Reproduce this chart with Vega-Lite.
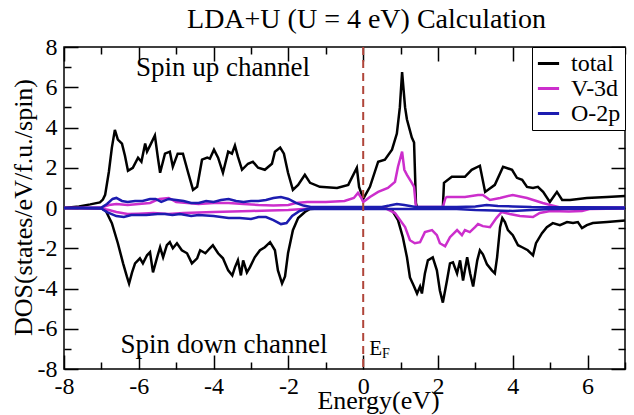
{
  "$schema": "https://vega.github.io/schema/vega-lite/v6.json",
  "width": 561,
  "height": 322,
  "autosize": {"type": "none"},
  "padding": {"left": 64, "top": 47, "right": 9, "bottom": 46},
  "background": "white",
  "data": {"values": [{}]},
  "title": {"text": "LDA+U (U = 4 eV) Calculation", "font": "Liberation Serif", "fontSize": 28, "fontWeight": "normal", "color": "black", "anchor": "middle", "dx": 22, "offset": 1},
  "datasets": {
    "tu": [{"x":-8,"y":0},{"x":-7.6,"y":0.08},{"x":-7.3,"y":0.18},{"x":-7.04,"y":0.28},{"x":-6.96,"y":0.42},{"x":-6.9,"y":0.65},{"x":-6.8,"y":1.8},{"x":-6.72,"y":3.0},{"x":-6.64,"y":3.88},{"x":-6.56,"y":3.4},{"x":-6.45,"y":3.2},{"x":-6.37,"y":2.6},{"x":-6.29,"y":1.85},{"x":-6.16,"y":2.0},{"x":-6.02,"y":2.5},{"x":-5.93,"y":2.3},{"x":-5.83,"y":3.2},{"x":-5.78,"y":2.8},{"x":-5.7,"y":3.1},{"x":-5.57,"y":3.6},{"x":-5.49,"y":2.5},{"x":-5.43,"y":1.75},{"x":-5.3,"y":2.7},{"x":-5.17,"y":2.8},{"x":-5.09,"y":2.05},{"x":-4.96,"y":2.7},{"x":-4.82,"y":2.7},{"x":-4.68,"y":1.75},{"x":-4.55,"y":0.9},{"x":-4.44,"y":1.05},{"x":-4.31,"y":2.4},{"x":-4.17,"y":2.5},{"x":-4.1,"y":2.45},{"x":-3.99,"y":2.9},{"x":-3.88,"y":2.5},{"x":-3.75,"y":1.75},{"x":-3.61,"y":2.8},{"x":-3.51,"y":2.7},{"x":-3.43,"y":3.1},{"x":-3.35,"y":2.55},{"x":-3.24,"y":1.9},{"x":-3.08,"y":2.2},{"x":-2.95,"y":2.3},{"x":-2.81,"y":2.0},{"x":-2.63,"y":1.9},{"x":-2.44,"y":2.2},{"x":-2.36,"y":2.8},{"x":-2.22,"y":3.0},{"x":-2.12,"y":2.7},{"x":-2.01,"y":1.75},{"x":-1.88,"y":0.9},{"x":-1.74,"y":1.15},{"x":-1.56,"y":1.65},{"x":-1.42,"y":1.25},{"x":-1.16,"y":1.05},{"x":-0.7,"y":1.0},{"x":-0.4,"y":1.15},{"x":-0.17,"y":2.0},{"x":-0.11,"y":1.05},{"x":0,"y":0.45},{"x":0.18,"y":1.05},{"x":0.4,"y":2.3},{"x":0.58,"y":2.4},{"x":0.77,"y":2.9},{"x":0.9,"y":3.7},{"x":0.98,"y":5.0},{"x":1.04,"y":6.75},{"x":1.12,"y":5.0},{"x":1.17,"y":4.4},{"x":1.3,"y":3.5},{"x":1.36,"y":3.25},{"x":1.41,"y":0.25},{"x":1.44,"y":0.02},{"x":2.13,"y":0.02},{"x":2.16,"y":1.25},{"x":2.37,"y":1.55},{"x":2.72,"y":1.55},{"x":2.9,"y":1.9},{"x":3.12,"y":2.1},{"x":3.26,"y":0.8},{"x":3.52,"y":1.15},{"x":3.74,"y":2.05},{"x":3.98,"y":1.9},{"x":4.11,"y":1.5},{"x":4.25,"y":1.4},{"x":4.38,"y":1.05},{"x":4.54,"y":1.0},{"x":4.67,"y":1.05},{"x":4.81,"y":0.8},{"x":4.99,"y":0.3},{"x":5.18,"y":0.8},{"x":5.32,"y":0.4},{"x":5.53,"y":0.4},{"x":5.98,"y":0.5},{"x":6.52,"y":0.55},{"x":7,"y":0.6}],
    "td": [{"x":-8,"y":0},{"x":-7.0,"y":-0.02},{"x":-6.88,"y":-0.15},{"x":-6.72,"y":-0.75},{"x":-6.56,"y":-1.75},{"x":-6.42,"y":-2.75},{"x":-6.32,"y":-3.4},{"x":-6.26,"y":-3.75},{"x":-6.18,"y":-3.2},{"x":-6.1,"y":-2.75},{"x":-5.97,"y":-2.5},{"x":-5.89,"y":-2.75},{"x":-5.78,"y":-2.35},{"x":-5.7,"y":-2.2},{"x":-5.62,"y":-3.2},{"x":-5.51,"y":-2.45},{"x":-5.43,"y":-1.95},{"x":-5.35,"y":-2.45},{"x":-5.25,"y":-1.85},{"x":-5.17,"y":-1.7},{"x":-5.09,"y":-2.0},{"x":-4.98,"y":-1.75},{"x":-4.85,"y":-2.1},{"x":-4.71,"y":-2.25},{"x":-4.58,"y":-2.75},{"x":-4.44,"y":-2.5},{"x":-4.36,"y":-2.1},{"x":-4.22,"y":-2.25},{"x":-4.1,"y":-2.0},{"x":-4.02,"y":-1.85},{"x":-3.88,"y":-2.25},{"x":-3.75,"y":-2.5},{"x":-3.61,"y":-3.1},{"x":-3.5,"y":-3.35},{"x":-3.43,"y":-2.95},{"x":-3.35,"y":-2.6},{"x":-3.27,"y":-3.35},{"x":-3.21,"y":-2.6},{"x":-3.11,"y":-3.2},{"x":-3.03,"y":-2.95},{"x":-2.9,"y":-2.45},{"x":-2.76,"y":-2.1},{"x":-2.63,"y":-1.95},{"x":-2.49,"y":-1.7},{"x":-2.36,"y":-2.1},{"x":-2.28,"y":-3.1},{"x":-2.17,"y":-3.75},{"x":-2.09,"y":-3.4},{"x":-2.01,"y":-2.25},{"x":-1.88,"y":-1.1},{"x":-1.74,"y":-0.5},{"x":-1.56,"y":-0.2},{"x":-1.42,"y":-0.05},{"x":-1.2,"y":-0.02},{"x":0.6,"y":-0.02},{"x":0.77,"y":-0.1},{"x":0.93,"y":-0.6},{"x":1.06,"y":-1.45},{"x":1.17,"y":-2.45},{"x":1.25,"y":-3.45},{"x":1.36,"y":-3.9},{"x":1.44,"y":-4.25},{"x":1.52,"y":-3.9},{"x":1.57,"y":-4.25},{"x":1.65,"y":-3.25},{"x":1.73,"y":-2.6},{"x":1.86,"y":-2.45},{"x":1.97,"y":-3.1},{"x":2.05,"y":-4.1},{"x":2.13,"y":-4.7},{"x":2.24,"y":-3.6},{"x":2.32,"y":-2.75},{"x":2.4,"y":-2.7},{"x":2.51,"y":-3.25},{"x":2.59,"y":-2.6},{"x":2.67,"y":-3.6},{"x":2.78,"y":-2.45},{"x":2.86,"y":-3.25},{"x":2.94,"y":-3.9},{"x":3.05,"y":-2.6},{"x":3.12,"y":-2.1},{"x":3.2,"y":-2.3},{"x":3.31,"y":-2.8},{"x":3.44,"y":-3.1},{"x":3.52,"y":-3.25},{"x":3.58,"y":-2.45},{"x":3.66,"y":-0.95},{"x":3.72,"y":-0.5},{"x":3.79,"y":-0.7},{"x":3.87,"y":-1.1},{"x":4.0,"y":-1.35},{"x":4.14,"y":-1.85},{"x":4.25,"y":-1.95},{"x":4.4,"y":-2.1},{"x":4.54,"y":-2.35},{"x":4.62,"y":-1.75},{"x":4.78,"y":-1.25},{"x":4.91,"y":-0.95},{"x":5.07,"y":-0.75},{"x":5.26,"y":-0.85},{"x":5.45,"y":-0.7},{"x":5.61,"y":-0.75},{"x":5.74,"y":-0.7},{"x":5.85,"y":-1.0},{"x":5.98,"y":-0.85},{"x":6.14,"y":-0.75},{"x":6.52,"y":-0.7},{"x":7,"y":-0.62}],
    "vu": [{"x":-8,"y":0},{"x":-7,"y":0.02},{"x":-6.8,"y":0.15},{"x":-6.6,"y":0.2},{"x":-6.3,"y":0.15},{"x":-6.0,"y":0.2},{"x":-5.7,"y":0.25},{"x":-5.45,"y":0.45},{"x":-5.2,"y":0.5},{"x":-5.0,"y":0.3},{"x":-4.7,"y":0.25},{"x":-4.4,"y":0.2},{"x":-4.0,"y":0.25},{"x":-3.6,"y":0.25},{"x":-3.2,"y":0.2},{"x":-2.8,"y":0.15},{"x":-2.4,"y":0.12},{"x":-2.0,"y":0.15},{"x":-1.8,"y":0.25},{"x":-1.5,"y":0.3},{"x":-1.0,"y":0.3},{"x":-0.5,"y":0.35},{"x":-0.25,"y":0.5},{"x":-0.14,"y":0.75},{"x":-0.05,"y":0.5},{"x":0,"y":0.3},{"x":0.18,"y":0.55},{"x":0.4,"y":0.8},{"x":0.66,"y":1.0},{"x":0.85,"y":1.3},{"x":0.93,"y":2.05},{"x":1.04,"y":2.8},{"x":1.1,"y":1.9},{"x":1.17,"y":1.65},{"x":1.3,"y":1.25},{"x":1.36,"y":1.05},{"x":1.41,"y":0.05},{"x":2.13,"y":0.05},{"x":2.2,"y":0.5},{"x":2.24,"y":0.55},{"x":2.72,"y":0.55},{"x":3.07,"y":0.65},{"x":3.2,"y":0.65},{"x":3.39,"y":0.4},{"x":3.66,"y":0.5},{"x":4.0,"y":0.65},{"x":4.38,"y":0.5},{"x":4.8,"y":0.25},{"x":5.0,"y":0.15},{"x":5.3,"y":0.02},{"x":7,"y":0.02}],
    "vd": [{"x":-8,"y":0},{"x":-7,"y":-0.02},{"x":-6.8,"y":-0.1},{"x":-6.6,"y":-0.2},{"x":-6.3,"y":-0.3},{"x":-6.0,"y":-0.28},{"x":-5.6,"y":-0.25},{"x":-5.2,"y":-0.3},{"x":-4.8,"y":-0.25},{"x":-4.4,"y":-0.22},{"x":-4.0,"y":-0.2},{"x":-3.5,"y":-0.18},{"x":-3.0,"y":-0.15},{"x":-2.5,"y":-0.12},{"x":-2.0,"y":-0.1},{"x":-1.6,"y":-0.05},{"x":-1.2,"y":-0.02},{"x":0.6,"y":-0.02},{"x":0.85,"y":-0.25},{"x":1.12,"y":-0.95},{"x":1.25,"y":-1.6},{"x":1.38,"y":-1.75},{"x":1.52,"y":-1.7},{"x":1.65,"y":-1.2},{"x":1.84,"y":-1.1},{"x":1.97,"y":-1.35},{"x":2.05,"y":-1.75},{"x":2.19,"y":-1.9},{"x":2.32,"y":-1.45},{"x":2.51,"y":-1.1},{"x":2.64,"y":-1.35},{"x":2.72,"y":-1.1},{"x":2.85,"y":-1.2},{"x":2.99,"y":-0.95},{"x":3.07,"y":-0.8},{"x":3.2,"y":-0.9},{"x":3.39,"y":-0.95},{"x":3.56,"y":-0.5},{"x":3.7,"y":-0.2},{"x":3.92,"y":-0.3},{"x":4.19,"y":-0.4},{"x":4.54,"y":-0.45},{"x":4.72,"y":-0.25},{"x":5.0,"y":-0.15},{"x":5.5,"y":-0.18},{"x":5.85,"y":-0.15},{"x":6.05,"y":-0.05},{"x":7,"y":-0.02}],
    "ou": [{"x":-8,"y":0},{"x":-7.0,"y":0.02},{"x":-6.85,"y":0.2},{"x":-6.7,"y":0.45},{"x":-6.6,"y":0.5},{"x":-6.45,"y":0.35},{"x":-6.3,"y":0.3},{"x":-6.1,"y":0.35},{"x":-5.9,"y":0.35},{"x":-5.7,"y":0.45},{"x":-5.55,"y":0.45},{"x":-5.4,"y":0.3},{"x":-5.2,"y":0.45},{"x":-5.0,"y":0.4},{"x":-4.8,"y":0.35},{"x":-4.6,"y":0.25},{"x":-4.4,"y":0.25},{"x":-4.2,"y":0.35},{"x":-4.0,"y":0.3},{"x":-3.8,"y":0.4},{"x":-3.6,"y":0.45},{"x":-3.4,"y":0.35},{"x":-3.2,"y":0.3},{"x":-3.0,"y":0.35},{"x":-2.8,"y":0.35},{"x":-2.6,"y":0.4},{"x":-2.4,"y":0.5},{"x":-2.2,"y":0.55},{"x":-2.0,"y":0.45},{"x":-1.8,"y":0.25},{"x":-1.6,"y":0.12},{"x":-1.4,"y":0.05},{"x":0.5,"y":0.05},{"x":0.7,"y":0.12},{"x":0.9,"y":0.2},{"x":1.1,"y":0.15},{"x":1.4,"y":0.05},{"x":2.5,"y":0.05},{"x":3.0,"y":0.08},{"x":3.3,"y":0.15},{"x":3.6,"y":0.1},{"x":4.0,"y":0.08},{"x":4.5,"y":0.05},{"x":7,"y":0.02}],
    "od": [{"x":-8,"y":0},{"x":-7.0,"y":-0.02},{"x":-6.85,"y":-0.2},{"x":-6.6,"y":-0.4},{"x":-6.4,"y":-0.45},{"x":-6.2,"y":-0.35},{"x":-6.0,"y":-0.35},{"x":-5.8,"y":-0.35},{"x":-5.5,"y":-0.3},{"x":-5.3,"y":-0.3},{"x":-5.1,"y":-0.35},{"x":-4.9,"y":-0.3},{"x":-4.6,"y":-0.4},{"x":-4.4,"y":-0.35},{"x":-4.0,"y":-0.4},{"x":-3.6,"y":-0.5},{"x":-3.3,"y":-0.5},{"x":-3.0,"y":-0.55},{"x":-2.8,"y":-0.45},{"x":-2.6,"y":-0.45},{"x":-2.4,"y":-0.6},{"x":-2.2,"y":-0.8},{"x":-2.05,"y":-0.75},{"x":-1.9,"y":-0.4},{"x":-1.7,"y":-0.15},{"x":-1.5,"y":-0.05},{"x":0.5,"y":-0.05},{"x":1.5,"y":-0.05},{"x":2.5,"y":-0.05},{"x":3.0,"y":-0.1},{"x":3.5,"y":-0.12},{"x":4.0,"y":-0.15},{"x":4.5,"y":-0.1},{"x":5.0,"y":-0.05},{"x":7,"y":-0.02}]
  },
  "resolve": {"axis": {"x": "independent", "y": "independent"}},
  "layer": [
    {
      "data": {"name": "tu"},
      "mark": {"type": "line", "strokeWidth": 2.5},
      "encoding": {
        "x": {"field": "x", "type": "quantitative", "scale": {"domain": [-8, 7], "nice": false, "zero": false},
          "axis": {"orient": "bottom", "values": [-8,-7,-6,-5,-4,-3,-2,-1,0,1,2,3,4,5,6,7], "labelExpr": "datum.value % 2 === 0 ? '' + datum.value : ''", "labelFont": "Liberation Serif", "labelFontSize": 24, "labelColor": "black", "tickSize": {"condition": {"test": "datum.value % 2 === 0", "value": -14}, "value": -7}, "labelPadding": 19, "labelFlush": false, "labelOverlap": false, "title": "Energy(eV)", "titleFontSize": 26, "titleX": 314, "titleY": 39, "titleBaseline": "alphabetic"}},
        "y": {"field": "y", "type": "quantitative", "scale": {"domain": [-8, 8], "nice": false, "zero": false},
          "axis": {"orient": "left", "values": [-8,-7,-6,-5,-4,-3,-2,-1,0,1,2,3,4,5,6,7,8], "labelExpr": "datum.value % 2 === 0 ? '' + datum.value : ''", "labelFont": "Liberation Serif", "labelFontSize": 24, "labelColor": "black", "tickSize": {"condition": {"test": "datum.value % 2 === 0", "value": -14}, "value": -7}, "labelPadding": 21, "labelFlush": false, "labelOverlap": false, "title": "DOS(states/eV/f.u./spin)", "titleFontSize": 26, "titleAngle": 270, "titleBaseline": "middle", "titleX": -41, "titleY": 160}},
        "color": {"datum": "total", "type": "nominal",
          "scale": {"domain": ["total", "V-3d", "O-2p"], "range": ["#000000", "#cc2ecc", "#1c1cb0"]},
          "legend": {"orient": "top-right", "offset": 0, "title": null, "strokeColor": "black", "fillColor": "white", "padding": 4, "labelFont": "Liberation Serif", "labelFontSize": 24, "labelColor": "black", "symbolType": "stroke", "symbolStrokeWidth": 3, "symbolSize": 450, "rowPadding": -3, "labelOffset": 10}}
      }
    },
    {"data": {"name": "td"}, "mark": {"type": "line", "strokeWidth": 2.5},
      "encoding": {"x": {"field": "x", "type": "quantitative", "axis": null}, "y": {"field": "y", "type": "quantitative", "axis": null}, "color": {"datum": "total", "type": "nominal"}}},
    {"data": {"name": "vu"}, "mark": {"type": "line", "strokeWidth": 2.5},
      "encoding": {"x": {"field": "x", "type": "quantitative", "axis": null}, "y": {"field": "y", "type": "quantitative", "axis": null}, "color": {"datum": "V-3d", "type": "nominal"}}},
    {"data": {"name": "vd"}, "mark": {"type": "line", "strokeWidth": 2.5},
      "encoding": {"x": {"field": "x", "type": "quantitative", "axis": null}, "y": {"field": "y", "type": "quantitative", "axis": null}, "color": {"datum": "V-3d", "type": "nominal"}}},
    {"data": {"name": "ou"}, "mark": {"type": "line", "strokeWidth": 2.5},
      "encoding": {"x": {"field": "x", "type": "quantitative", "axis": null}, "y": {"field": "y", "type": "quantitative", "axis": null}, "color": {"datum": "O-2p", "type": "nominal"}}},
    {"data": {"name": "od"}, "mark": {"type": "line", "strokeWidth": 2.5},
      "encoding": {"x": {"field": "x", "type": "quantitative", "axis": null}, "y": {"field": "y", "type": "quantitative", "axis": null}, "color": {"datum": "O-2p", "type": "nominal"}}},
    {"mark": {"type": "rule", "color": "#b0453a", "strokeDash": [8, 5], "strokeWidth": 2},
      "encoding": {"x": {"datum": 0, "type": "quantitative", "axis": null}}},
    {"mark": {"type": "text", "text": "Spin up channel", "font": "Liberation Serif", "fontSize": 27, "align": "center", "baseline": "alphabetic", "color": "black"},
      "encoding": {
        "x": {"datum": -3.75, "type": "quantitative",
          "axis": {"orient": "top", "values": [-8,-7,-6,-5,-4,-3,-2,-1,0,1,2,3,4,5,6,7], "labels": false, "tickSize": {"condition": {"test": "datum.value % 2 === 0", "value": -14}, "value": -7}, "title": null}},
        "y": {"datum": 6.55, "type": "quantitative",
          "axis": {"orient": "right", "values": [-8,-7,-6,-5,-4,-3,-2,-1,0,1,2,3,4,5,6,7,8], "labels": false, "tickSize": {"condition": {"test": "datum.value % 2 === 0", "value": -14}, "value": -7}, "title": null}}
      }},
    {"mark": {"type": "text", "text": "Spin down channel", "font": "Liberation Serif", "fontSize": 27, "align": "center", "baseline": "alphabetic", "color": "black"},
      "encoding": {"x": {"datum": -3.72, "type": "quantitative", "axis": null}, "y": {"datum": -7.2, "type": "quantitative", "axis": null}}},
    {"mark": {"type": "text", "text": "E", "font": "Liberation Serif", "fontSize": 21, "align": "left", "baseline": "alphabetic", "color": "black"},
      "encoding": {"x": {"datum": 0.16, "type": "quantitative", "axis": null}, "y": {"datum": -7.3, "type": "quantitative", "axis": null}}},
    {"mark": {"type": "text", "text": "F", "font": "Liberation Serif", "fontSize": 14, "align": "left", "baseline": "alphabetic", "color": "black"},
      "encoding": {"x": {"datum": 0.5, "type": "quantitative", "axis": null}, "y": {"datum": -7.45, "type": "quantitative", "axis": null}}}
  ],
  "config": {
    "font": "Liberation Serif",
    "axis": {"domain": false, "grid": false, "labelFont": "Liberation Serif", "labelFontSize": 24, "labelColor": "black", "tickColor": "black", "tickWidth": 1.5, "titleFont": "Liberation Serif", "titleFontWeight": "normal", "titleColor": "black"},
    "style": {"guide-label": {"font": "Liberation Serif", "fontSize": 24, "fill": "black"}},
    "view": {"stroke": "black", "strokeWidth": 1.5}
  }
}
